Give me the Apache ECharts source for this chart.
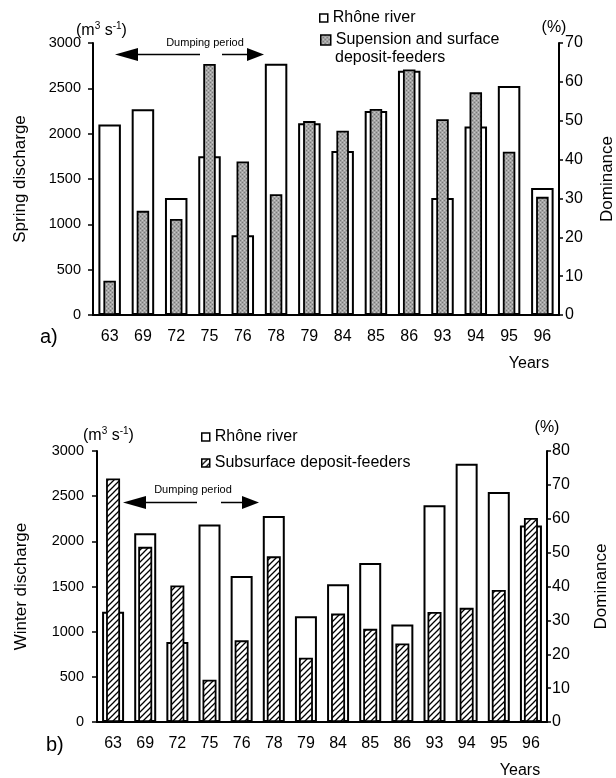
<!DOCTYPE html>
<html>
<head>
<meta charset="utf-8">
<script src="https://cdn.jsdelivr.net/npm/echarts@6/dist/echarts.min.js"></script>
<style>
  html, body { margin: 0; padding: 0; background: #fff; }
  #chart { width: 616px; height: 778px; }
</style>
</head>
<body>
<div id="chart"></div>
<script>
// data
const years = ["63", "69", "72", "75", "76", "78", "79", "84", "85", "86", "93", "94", "95", "96"];
const springDischarge = [2100, 2270, 1290, 1750, 880, 2770, 2115, 1810, 2250, 2695, 1290, 2080, 2525, 1400];
const springDominance = [8.8, 26.8, 24.7, 64.6, 39.5, 31.1, 49.9, 47.4, 53.0, 63.2, 50.4, 57.3, 42.0, 30.4];
const winterDischarge = [1220, 2090, 885, 2185, 1615, 2280, 1170, 1525, 1760, 1080, 2400, 2860, 2545, 2175];
const winterDominance = [71.9, 51.7, 40.3, 12.5, 24.1, 48.9, 19.0, 32.0, 27.5, 23.2, 32.5, 33.7, 39.0, 60.2];
const dischargeTicks = { min: 0, max: 3000, interval: 500 };
const springPctTicks = { min: 0, max: 70, interval: 10 };
const winterPctTicks = { min: 0, max: 80, interval: 10 };

const FONT = "'Liberation Sans', Arial, sans-serif";

function makePattern(size, draw) {
  const c = document.createElement("canvas");
  c.width = size;
  c.height = size;
  draw(c.getContext("2d"));
  return { image: c, repeat: "repeat" };
}

// grey stipple
const stipple = makePattern(4, (ctx) => {
  ctx.fillStyle = "#a4a4a4";
  ctx.fillRect(0, 0, 4, 4);
  ctx.fillStyle = "#777";
  ctx.fillRect(0, 0, 1, 1);
  ctx.fillRect(2, 2, 1, 1);
  ctx.fillStyle = "#c8c8c8";
  ctx.fillRect(2, 0, 1, 1);
  ctx.fillRect(0, 2, 1, 1);
});

// "////" hatching
const hatch = makePattern(6, (ctx) => {
  ctx.fillStyle = "#fff";
  ctx.fillRect(0, 0, 6, 6);
  ctx.strokeStyle = "#000";
  ctx.lineWidth = 1.3;
  ctx.beginPath();
  ctx.moveTo(-1, 7); ctx.lineTo(7, -1);
  ctx.moveTo(-4, 4); ctx.lineTo(4, -4);
  ctx.moveTo(2, 10); ctx.lineTo(10, 2);
  ctx.stroke();
});

const whiteStyle = { color: "#fff", borderColor: "#000", borderWidth: 2 };

function catAxis(grid, show) {
  return {
    type: "category",
    gridIndex: grid,
    data: years,
    show: show,
    axisLine: { lineStyle: { color: "#000", width: 2 } },
    axisTick: { length: 5, lineStyle: { color: "#000", width: 1.5 } },
    axisLabel: { color: "#000", fontSize: 16, fontFamily: FONT, margin: 14 }
  };
}

function valAxis(grid, ticks, pos, name, gap, labelSize, labelMargin, tickLen) {
  return {
    type: "value",
    gridIndex: grid,
    position: pos,
    min: ticks.min,
    max: ticks.max,
    interval: ticks.interval,
    name: name,
    nameLocation: "middle",
    nameRotate: 90,
    nameGap: gap,
    nameTextStyle: { color: "#000", fontSize: 17, fontFamily: FONT },
    splitLine: { show: false },
    axisLine: { show: true, lineStyle: { color: "#000", width: 2 } },
    axisTick: { show: true, length: tickLen, lineStyle: { color: "#000", width: 1.5 } },
    axisLabel: { color: "#000", fontSize: labelSize, fontFamily: FONT, margin: labelMargin, formatter: (v) => String(v) }
  };
}

function arrows(y, lTip, lEnd, rStart, rTip, textX, textY) {
  const h = 6.5;
  const shaft = { stroke: "#000", lineWidth: 1.5 };
  return [
    { type: "polygon", shape: { points: [[lTip, y], [lTip + 23, y - h], [lTip + 23, y + h]] }, style: { fill: "#000" } },
    { type: "line", shape: { x1: lTip + 20, y1: y, x2: lEnd, y2: y }, style: shaft },
    { type: "line", shape: { x1: rStart, y1: y, x2: rTip - 14, y2: y }, style: shaft },
    { type: "polygon", shape: { points: [[rTip, y], [rTip - 17, y - h], [rTip - 17, y + h]] }, style: { fill: "#000" } },
    { type: "text", x: textX, y: textY, style: { text: "Dumping period", fontSize: 11, fontFamily: FONT, fill: "#000", align: "center", verticalAlign: "middle" } }
  ];
}

function label(x, y, text, size, align) {
  return { type: "text", x: x, y: y, style: { text: text, fontSize: size, fontFamily: FONT, fill: "#000", align: align || "left", verticalAlign: "middle" } };
}

function units(x, y) {
  return {
    type: "text", x: x, y: y,
    style: {
      text: "{a|(m}{s|3}{a| s}{s|-1}{a|)}",
      verticalAlign: "middle",
      rich: {
        a: { fontSize: 16, fontFamily: FONT, fill: "#000", lineHeight: 18, verticalAlign: "bottom" },
        s: { fontSize: 10, fontFamily: FONT, fill: "#000", lineHeight: 18, verticalAlign: "top" }
      }
    }
  };
}

const legendText = { color: "#000", fontSize: 16, fontFamily: FONT };

const chart = echarts.init(document.getElementById("chart"));
chart.setOption({
  animation: false,
  backgroundColor: "#fff",
  grid: [
    { left: 93, right: 57, top: 43, height: 272, outerBoundsMode: "none", containLabel: false },
    { left: 97, right: 69, top: 451, height: 271, outerBoundsMode: "none", containLabel: false }
  ],
  xAxis: [catAxis(0, true), catAxis(0, false), catAxis(1, true), catAxis(1, false)],
  yAxis: [
    valAxis(0, dischargeTicks, "left", "Spring discharge", 64, 14.5, 12, 5),
    valAxis(0, springPctTicks, "right", "Dominance", 40, 16, 6, 4),
    valAxis(1, dischargeTicks, "left", "Winter discharge", 67, 14.5, 13, 5),
    valAxis(1, winterPctTicks, "right", "Dominance", 46, 16, 5, 4)
  ],
  legend: [
    { left: 319, top: 10, padding: 0, icon: "rect", itemWidth: 8, itemHeight: 8, selectedMode: false, textStyle: legendText,
      data: [{ name: "Rhône river", itemStyle: { color: "#fff", borderColor: "#000", borderWidth: 1.5 } }] },
    { left: 320, top: 32, padding: 0, icon: "rect", itemWidth: 10, itemHeight: 10, selectedMode: false, textStyle: legendText,
      formatter: () => "Supension and surface",
      data: [{ name: "Supension and surface deposit-feeders", itemStyle: { color: stipple, borderColor: "#000", borderWidth: 1.5 } }] },
    { left: 201, top: 429, padding: 0, orient: "vertical", itemGap: 10, icon: "rect", itemWidth: 8, itemHeight: 8, selectedMode: false, textStyle: legendText,
      data: [
        { name: "Rhône river", itemStyle: { color: "#fff", borderColor: "#000", borderWidth: 1.5 } },
        { name: "Subsurface deposit-feeders", itemStyle: { color: hatch, borderColor: "#000", borderWidth: 1.5 } }
      ] }
  ],
  series: [
    { name: "Rhône river", type: "bar", xAxisIndex: 0, yAxisIndex: 0, barWidth: 22.5, data: springDischarge, itemStyle: whiteStyle },
    { name: "Supension and surface deposit-feeders", type: "bar", xAxisIndex: 1, yAxisIndex: 1, barWidth: 12.5, data: springDominance,
      itemStyle: { color: stipple, borderColor: "#000", borderWidth: 1.8 } },
    { name: "Rhône river", type: "bar", xAxisIndex: 2, yAxisIndex: 2, barWidth: 22, data: winterDischarge, itemStyle: whiteStyle },
    { name: "Subsurface deposit-feeders", type: "bar", xAxisIndex: 3, yAxisIndex: 3, barWidth: 14, data: winterDominance,
      itemStyle: { color: hatch, borderColor: "#000", borderWidth: 1.8 } }
  ],
  graphic: [
    label(335, 58, "deposit-feeders", 16),
    units(76, 30),
    label(554, 28, "(%)", 16, "center"),
    units(83, 435),
    label(547, 428, "(%)", 16, "center"),
    label(529, 364, "Years", 16, "center"),
    label(520, 771, "Years", 16, "center"),
    label(40, 337, "a)", 20),
    label(46, 745, "b)", 20)
  ].concat(arrows(54.5, 115, 200, 222, 264, 205, 43), arrows(502.5, 123, 197, 221, 259, 193, 490))
});
</script>
</body>
</html>
